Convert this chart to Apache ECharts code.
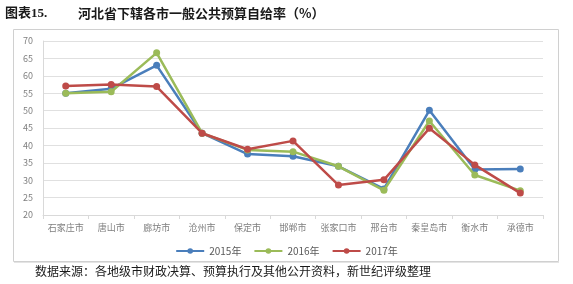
<!DOCTYPE html>
<html><head><meta charset="utf-8">
<script src="https://cdn.jsdelivr.net/npm/echarts@6/dist/echarts.min.js"></script>
<style>html,body{margin:0;padding:0;background:#fff}#c{width:573px;height:284px}</style>
</head><body><div id="c"></div>
<script>
const categories = ['石家庄市','唐山市','廊坊市','沧州市','保定市','邯郸市','张家口市','邢台市','秦皇岛市','衡水市','承德市'];
const s2015 = [55, 56.3, 63, 43.5, 37.5, 36.9, 34, 27.5, 50.1, 33.1, 33.2];
const s2016 = [55, 55.4, 66.6, 43.5, 38.7, 38.2, 34, 27.1, 47, 31.5, 27];
const s2017 = [57.1, 57.5, 56.9, 43.5, 38.9, 41.3, 28.6, 30.1, 44.9, 34.4, 26.3];
const seriesNames = ['2015年','2016年','2017年'];
const yTicks = {min: 20, max: 70, interval: 5};
const titleText = '图表15.';
const titleMain = '河北省下辖各市一般公共预算自给率（%）';
const sourceText = '数据来源：各地级市财政决算、预算执行及其他公开资料，新世纪评级整理';

const colors = ['#4A7EBB', '#9BBB59', '#BE4B48'];
const chart = echarts.init(document.getElementById('c'));
const mk = (name, data, i) => ({
  name, type: 'line', data, symbol: 'circle', symbolSize: 7,
  lineStyle: {width: 2.5, color: colors[i]}, itemStyle: {color: colors[i]}, z: 3 + i
});
chart.setOption({
  animation: false,
  textStyle: {fontFamily: 'Noto Sans CJK SC'},
  graphic: [
    {type: 'rect', shape: {x: 13.5, y: 29.5, width: 545, height: 232}, style: {fill: 'none', stroke: '#d0d0d0', lineWidth: 1}, z: 0},
    {type: 'line', shape: {x1: 14, y1: 262.5, x2: 559, y2: 262.5}, style: {stroke: '#e4e4e4', lineWidth: 1}},
    {type: 'text', left: 5, top: 7, style: {text: titleText, font: 'bold 13px "Liberation Serif", "Noto Sans CJK SC"', fill: '#1a1a1a'}},
    {type: 'text', left: 78, top: 7, style: {text: titleMain, font: 'bold 13px "Noto Sans CJK SC"', fill: '#1a1a1a'}},
    {type: 'text', left: 35, top: 265, style: {text: sourceText, font: '12px "Noto Sans CJK SC"', fill: '#1a1a1a'}}
  ],
  legend: {
    show: true,
    data: seriesNames, top: 241, left: 'center', itemWidth: 28, itemHeight: 7, itemGap: 12,
    textStyle: {fontSize: 10, color: '#595959'}
  },
  grid: {left: 43, right: 30, top: 41, bottom: 69},
  xAxis: {
    type: 'category', data: categories, boundaryGap: true,
    axisLine: {lineStyle: {color: '#d9d9d9'}},
    axisTick: {show: true, lineStyle: {color: '#d9d9d9'}, length: 4},
    axisLabel: {color: '#7f7f7f', fontSize: 9, margin: 8, interval: 0}
  },
  yAxis: {
    type: 'value', min: yTicks.min, max: yTicks.max, interval: yTicks.interval,
    axisLine: {show: true, lineStyle: {color: '#d9d9d9'}},
    axisTick: {show: false},
    splitLine: {lineStyle: {color: '#e0e0e0'}},
    axisLabel: {color: '#7f7f7f', fontSize: 9, margin: 10}
  },
  series: [mk(seriesNames[0], s2015, 0), mk(seriesNames[1], s2016, 1), mk(seriesNames[2], s2017, 2)]
});
</script></body></html>
